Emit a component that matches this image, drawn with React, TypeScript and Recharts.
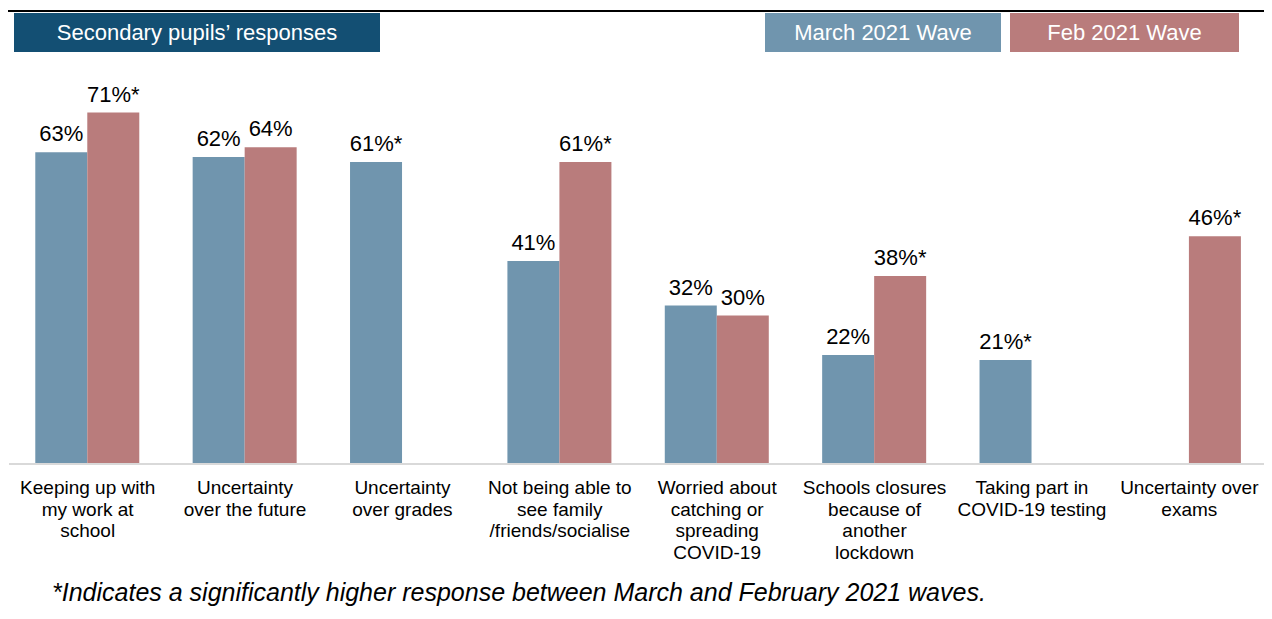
import React from "react";
import { BarChart, Bar, XAxis, YAxis, LabelList } from "recharts";

const categories = [
  ["Keeping up with", "my work at", "school"],
  ["Uncertainty", "over the future"],
  ["Uncertainty", "over grades"],
  ["Not being able to", "see family", "/friends/socialise"],
  ["Worried about", "catching or", "spreading", "COVID-19"],
  ["Schools closures", "because of", "another", "lockdown"],
  ["Taking part in", "COVID-19 testing"],
  ["Uncertainty over", "exams"],
];
const marchValues: (number | null)[] = [63, 62, 61, 41, 32, 22, 21, null];
const febValues: (number | null)[] = [71, 64, null, 61, 30, 38, null, 46];
const marchSignificant = [false, false, true, false, false, false, true, false];
const febSignificant = [true, false, false, true, false, true, false, true];

const seriesNames = { march: "March 2021 Wave", feb: "Feb 2021 Wave" };
const titleText = "Secondary pupils\u2019 responses";
const footnoteText =
  "*Indicates a significantly higher response between March and February 2021 waves.";

const fmt = (v: number | null, sig: boolean) =>
  v === null ? null : `${v}%${sig ? "*" : ""}`;

const data = categories.map((lines, i) => ({
  cat: lines.join(" "),
  march: marchValues[i],
  feb: febValues[i],
  marchLabel: fmt(marchValues[i], marchSignificant[i]),
  febLabel: fmt(febValues[i], febSignificant[i]),
}));

const BLUE = "#7095ae";
const RED = "#b97c7c";
const NAVY = "#134f73";
const FONT = "'Liberation Sans', Arial, sans-serif";

const renderLabel = (props: any) => {
  const { x, y, width, value } = props;
  if (value === null || value === undefined || value === "") return null;
  return (
    <text
      x={Number(x) + Number(width) / 2}
      y={Number(y) - 11}
      textAnchor="middle"
      fontSize={22}
      fontFamily={FONT}
      fill="#000"
    >
      {value}
    </text>
  );
};

const CategoryTick = (props: any) => {
  const { x, y, index } = props;
  const lines = categories[index] || [];
  return (
    <text
      x={x}
      y={y + 30}
      textAnchor="middle"
      fontSize={19}
      fontFamily={FONT}
      fill="#000"
    >
      {lines.map((l, i) => (
        <tspan key={i} x={x} dy={i === 0 ? 0 : 21.6}>
          {l}
        </tspan>
      ))}
    </text>
  );
};

const boxStyle = (left: number, width: number, bg: string): React.CSSProperties => ({
  position: "absolute",
  left,
  top: 5,
  width,
  height: 39,
  background: bg,
  color: "#fff",
  fontFamily: FONT,
  fontSize: 22,
  display: "flex",
  alignItems: "center",
  justifyContent: "center",
  whiteSpace: "nowrap",
});

export default function App() {
  return (
    <div style={{ position: "relative", width: 1264, height: 611, background: "#fff" }}>
      <BarChart
        width={1264}
        height={611}
        data={data}
        margin={{ top: 60, right: 4, left: 1, bottom: 0 }}
        barCategoryGap="16.7%"
        barGap={0}
      >
        <YAxis hide domain={[0, 80]} />
        <XAxis
          dataKey="cat"
          height={155}
          interval={0}
          tickLine={false}
          tickSize={0}
          tickMargin={0}
          axisLine={{ stroke: "#d9d9d9", strokeWidth: 2 }}
          tick={<CategoryTick />}
        />
        <Bar dataKey="march" name={seriesNames.march} fill={BLUE} isAnimationActive={false}>
          <LabelList dataKey="marchLabel" content={renderLabel} />
        </Bar>
        <Bar dataKey="feb" name={seriesNames.feb} fill={RED} isAnimationActive={false}>
          <LabelList dataKey="febLabel" content={renderLabel} />
        </Bar>
      </BarChart>

      <div style={{ position: "absolute", left: -2, top: 2, width: 1266, height: 2, background: "#000" }} />
      <div style={{ position: "absolute", left: -2, top: 2, width: 2, height: 609, background: "#000" }} />

      <div style={boxStyle(6, 366, NAVY)}>{titleText}</div>
      <div style={boxStyle(757, 236, BLUE)}>{seriesNames.march}</div>
      <div style={boxStyle(1002, 229, RED)}>{seriesNames.feb}</div>

      <div
        style={{
          position: "absolute",
          left: 44,
          top: 570,
          fontFamily: FONT,
          fontStyle: "italic",
          fontSize: 25,
          lineHeight: "28px",
          color: "#000",
          whiteSpace: "nowrap",
        }}
      >
        {footnoteText}
      </div>
    </div>
  );
}
